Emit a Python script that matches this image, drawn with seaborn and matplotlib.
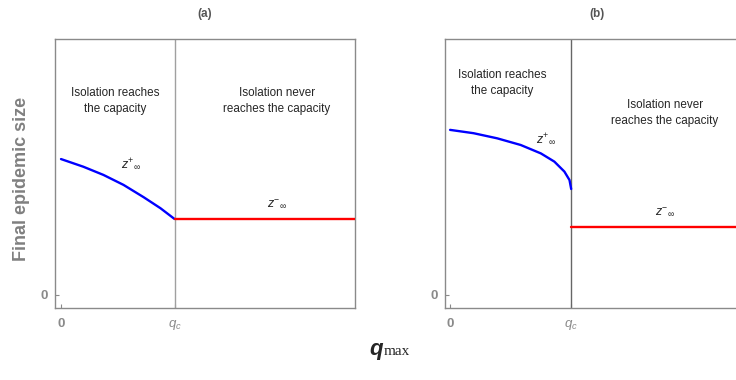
import numpy as np
import pandas as pd
import matplotlib
matplotlib.use("Agg")
import matplotlib.pyplot as plt
import seaborn as sns

# ---- data (qc = 1, y scaled so the top of the frame is 1) ----
a_blue_x = [0.0, 0.197, 0.374, 0.551, 0.728, 0.876, 1.0]
a_blue_y = [0.531, 0.501, 0.469, 0.430, 0.382, 0.339, 0.297]
a_red_x = [1.0, 2.6]
a_red_y = [0.297, 0.297]

b_blue_x = [0.0, 0.194, 0.389, 0.583, 0.75, 0.861, 0.944, 0.986, 1.0]
b_blue_y = [0.645, 0.632, 0.612, 0.586, 0.553, 0.521, 0.482, 0.449, 0.414]
b_red_x = [1.0, 2.5]
b_red_y = [0.266, 0.266]

panel_titles = ["(a)", "(b)"]
left_text = "Isolation reaches\nthe capacity"
right_text = "Isolation never\nreaches the capacity"
xtick_labels = ["0", r"$q_c$"]
ylabel = "Final epidemic size"

sns.set_style("white")
plt.rcParams['font.family'] = ['Liberation Sans', 'DejaVu Sans']
plt.rcParams['mathtext.fontset'] = 'custom'
plt.rcParams['mathtext.rm'] = 'Liberation Sans'
plt.rcParams['mathtext.it'] = 'Liberation Sans:italic'

GRAY = "#8a8a8a"
fig = plt.figure(figsize=(7.36, 3.8), dpi=100)
ax_a = fig.add_axes([55/736, 72/380, 300/736, 269/380])
ax_b = fig.add_axes([445/736, 72/380, 303/736, 269/380])

panels = [
    (ax_a, a_blue_x, a_blue_y, a_red_x, a_red_y, (-0.053, 2.59),
     (0.478, 0.758), (1.90, 0.758), (0.62, 0.51), (1.90, 0.355), "#a0a0a0"),
    (ax_b, b_blue_x, b_blue_y, b_red_x, b_red_y, (-0.042, 2.46),
     (0.433, 0.828), (1.775, 0.711), (0.79, 0.609), (1.775, 0.324), "#666666"),
]

for i, (ax, bx, by, rx, ry, xl, lt, rt, zp, zm, vcol) in enumerate(panels):
    ax.axvline(1.0, color=vcol, lw=1.0, zorder=1)
    sns.lineplot(x=bx, y=by, ax=ax, color="#0000ff", lw=1.7, zorder=3)
    sns.lineplot(x=rx, y=ry, ax=ax, color="#ff0000", lw=1.7, zorder=3)
    ax.set_xlim(*xl)
    ax.set_ylim(-0.0508, 1.0)
    ax.set_xticks([0, 1.0])
    ax.set_xticklabels(xtick_labels)
    ax.set_yticks([0])
    ax.set_yticklabels(["0"])
    for lab in ax.get_xticklabels() + ax.get_yticklabels():
        lab.set_color(GRAY)
    ax.get_xticklabels()[0].set_fontweight("bold")
    ax.get_xticklabels()[0].set_fontsize(9.5)
    ax.get_xticklabels()[1].set_fontsize(9.5)
    ax.get_yticklabels()[0].set_fontweight("bold")
    ax.get_yticklabels()[0].set_fontsize(9.5)
    ax.tick_params(bottom=True, left=True, direction="in", length=3,
                   width=0.8, color=GRAY, pad=5)
    ax.tick_params(axis="x", pad=7)
    for sp in ax.spines.values():
        sp.set_color(GRAY)
        sp.set_linewidth(1.0)
    ax.set_title(panel_titles[i], fontsize=8.5, fontweight="bold", color="#555555", pad=16)
    ax.text(*lt, left_text, ha="center", va="center", fontsize=8.4, linespacing=1.45)
    ax.text(*rt, right_text, ha="center", va="center", fontsize=8.4, linespacing=1.45)
    ax.text(*zp, r"$z^{+}{}_{\infty}$", ha="center", va="center", fontsize=9)
    ax.text(*zm, r"$z^{-}{}_{\infty}$", ha="center", va="center", fontsize=9)
    ax.set_xlabel("")
    ax.set_ylabel("")

fig.text(22/736, 1 - 179/380, ylabel, rotation=90, ha="center", va="center",
         fontsize=13, fontweight="bold", color="#808080")
fig.text(383/736, 1 - 355/380, "q", ha="right", va="baseline", fontsize=16,
         fontweight="bold", fontstyle="italic")
fig.text(384/736, 1 - 355/380, "max", ha="left", va="baseline", fontsize=11,
         family="Liberation Serif")

fig.savefig("out.png", dpi=100)
